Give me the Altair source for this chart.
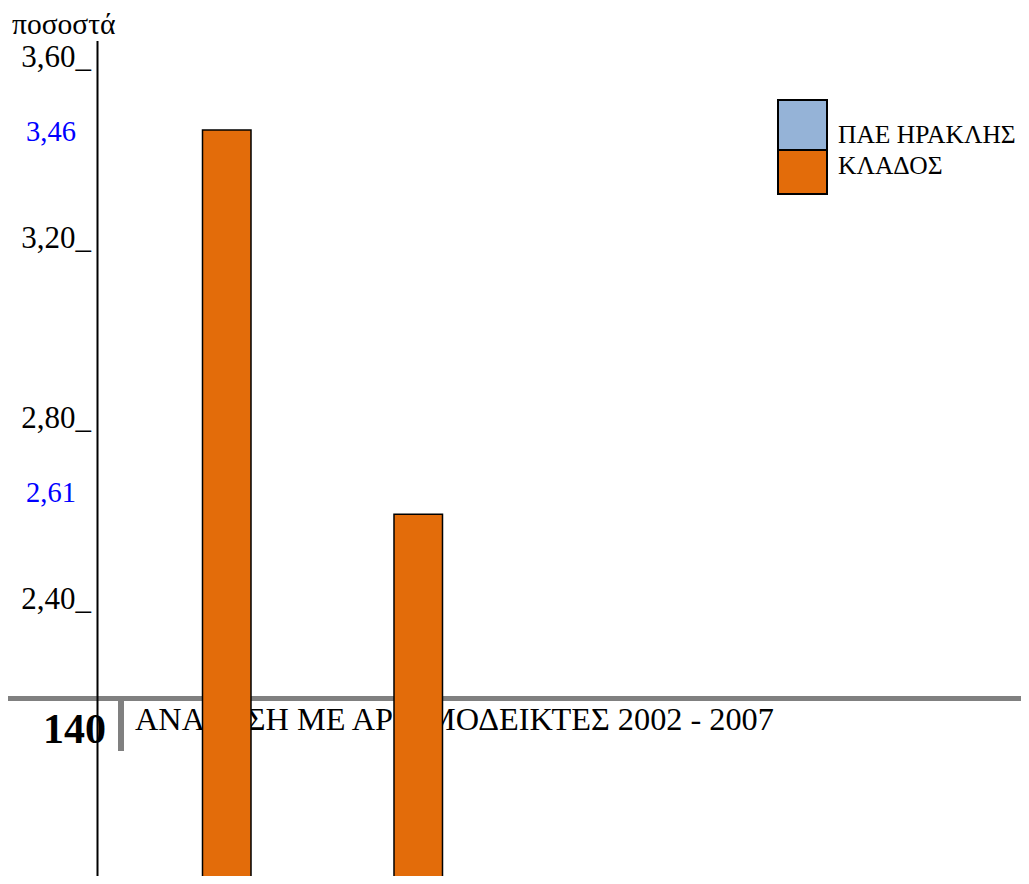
import altair as alt
import pandas as pd

# ---- data ----
categories = ["Α", "Β"]
klados_values = [3.46, 2.61]
series_names = ["ΠΑΕ ΗΡΑΚΛΗΣ", "ΚΛΑΔΟΣ"]
series_colors = ["#95B3D7", "#E36C0A"]
tick_values = [3.60, 3.20, 2.80, 2.40]
tick_labels = ["3,60_", "3,20_", "2,80_", "2,40_"]
value_labels = ["3,46", "2,61"]
y_axis_title = "ποσοστά"
footer_page = "140"
footer_text = "ΑΝΑΛΥΣΗ ΜΕ ΑΡΙΘΜΟΔΕΙΚΤΕΣ 2002 - 2007"

# ---- layout ----
W, H = 1013, 868
Y_MIN, Y_MAX = 1.81, 3.73
X_RANGE = [194.5, 434.5]
FONT = "Liberation Serif"

yscale = alt.Scale(domain=[Y_MIN, Y_MAX], zero=False, nice=False)
color_scale = alt.Scale(domain=series_names, range=series_colors)
one = pd.DataFrame({"k": [0]})

# footer (drawn under the chart)
footer_line = alt.Chart(one).mark_rule(color="#808080", strokeWidth=5).encode(
    x=alt.value(0), x2=alt.value(W), y=alt.value(690.5))
footer_bar = alt.Chart(one).mark_rule(color="#808080", strokeWidth=6).encode(
    x=alt.value(113), y=alt.value(692), y2=alt.value(743))
footer_num = alt.Chart(pd.DataFrame({"t": [footer_page]})).mark_text(
    align="right", baseline="alphabetic", font=FONT, fontSize=42, fontWeight="bold",
    color="black").encode(x=alt.value(98), y=alt.value(735), text="t:N")
footer_txt = alt.Chart(pd.DataFrame({"t": [footer_text]})).mark_text(
    align="left", baseline="alphabetic", font=FONT, fontSize=32.3, color="black"
).encode(x=alt.value(127), y=alt.value(722), text="t:N")

# bars
bars_df = pd.DataFrame({
    "cat": categories,
    "value": klados_values,
    "series": [series_names[1]] * len(categories),
    "base": [Y_MIN - 0.05] * len(categories),
})
bars = alt.Chart(bars_df).mark_bar(stroke="black", strokeWidth=1.5, clip=True).encode(
    x=alt.X("cat:N", axis=None,
            scale=alt.Scale(domain=categories, range=X_RANGE, paddingInner=0.7467,
                            paddingOuter=0, round=False)),
    y=alt.Y("value:Q", scale=yscale, axis=None),
    y2="base:Q",
    fill=alt.Fill("series:N", scale=color_scale, legend=None),
)

# axis line
axis_line = alt.Chart(one).mark_rule(color="black", strokeWidth=2).encode(
    x=alt.value(89.5), y=alt.value(33), y2=alt.value(H))

# tick labels
ticks_df = pd.DataFrame({"v": tick_values, "t": tick_labels})
tick_text = alt.Chart(ticks_df).mark_text(
    align="right", baseline="alphabetic", font=FONT, fontSize=31, color="black"
).encode(x=alt.value(83), y=alt.Y("v:Q", scale=yscale, axis=None), text="t:N")

# blue value labels
label_dy = [2, -21]
value_layers = []
for val, lab, dy in zip(klados_values, value_labels, label_dy):
    value_layers.append(
        alt.Chart(pd.DataFrame({"v": [val], "t": [lab]})).mark_text(
            align="center", baseline="middle", font=FONT, fontSize=28.5,
            color="#0000FF", dy=dy
        ).encode(x=alt.value(43), y=alt.Y("v:Q", scale=yscale, axis=None), text="t:N")
    )

# y title
ytitle = alt.Chart(pd.DataFrame({"t": [y_axis_title]})).mark_text(
    align="left", baseline="alphabetic", font=FONT, fontSize=29.5, color="black"
).encode(x=alt.value(4), y=alt.value(26), text="t:N")

# legend (boxes stacked, labels to the right)
box_top = [92, 142]
box_bot = [142, 186]
text_base = [135, 166]
legend_layers = []
for name, t, b, tb in zip(series_names, box_top, box_bot, text_base):
    d = pd.DataFrame({"series": [name]})
    legend_layers.append(
        alt.Chart(d).mark_rect(stroke="black", strokeWidth=2).encode(
            x=alt.value(770), x2=alt.value(819), y=alt.value(t), y2=alt.value(b),
            fill=alt.Fill("series:N", scale=color_scale, legend=None))
    )
    legend_layers.append(
        alt.Chart(d).mark_text(align="left", baseline="alphabetic", font=FONT,
                               fontSize=25.5, color="black").encode(
            x=alt.value(830), y=alt.value(tb), text="series:N")
    )

chart = alt.layer(
    footer_line, footer_bar, footer_num, footer_txt,
    bars, axis_line, tick_text, *value_layers, ytitle, *legend_layers
).properties(
    width=W, height=H, padding=0,
    autosize=alt.AutoSizeParams(type="none"),
).configure_view(stroke=None)

chart.save("out.html", embed_options={"renderer": "svg", "actions": False})
